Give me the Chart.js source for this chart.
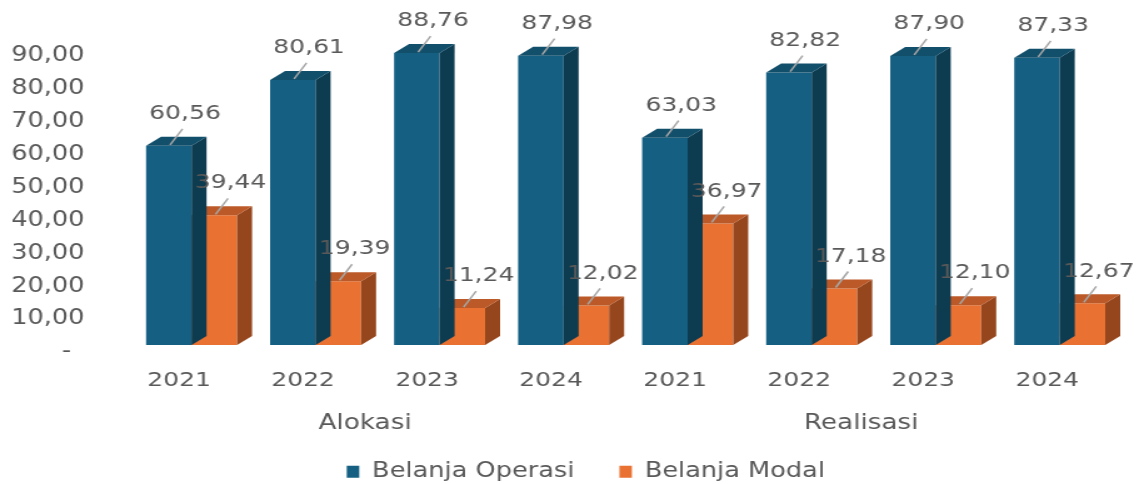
<!DOCTYPE html>
<html>
<head>
<meta charset="utf-8">
<script src="https://cdn.jsdelivr.net/npm/chart.js@4/dist/chart.umd.min.js"></script>
<style>
  html, body { margin: 0; padding: 0; background: #fff; overflow: hidden; }
  /* the source picture is stretched sideways, so the canvas is too */
  #wrap {
    position: absolute; left: 0; top: 0;
    width: 911px; height: 484px;
    transform: scaleX(1.25027); transform-origin: 0 0;
  }
</style>
</head>
<body>
<div id="wrap"><canvas id="chart"></canvas></div>
<script>
const years = ["2021", "2022", "2023", "2024", "2021", "2022", "2023", "2024"];
const groups = ["Alokasi", "Realisasi"];
const belanjaOperasi = [60.56, 80.61, 88.76, 87.98, 63.03, 82.82, 87.90, 87.33];
const belanjaModal = [39.44, 19.39, 11.24, 12.02, 36.97, 17.18, 12.10, 12.67];

const FONT = '"DejaVu Sans", sans-serif';
const GREY = "#595959";
const DEPTH_X = 12;
const DEPTH_Y = 9;
const LABEL_SHIFT = -10;

const shades = [
  { side: "#0d3b50", top: "#124f6b" },
  { side: "#96461d", top: "#bb5a28" },
];

function fmt(v) {
  return v.toFixed(2).replace(".", ",");
}

// side and top faces, drawn right after each dataset so the next one covers them
const depthPlugin = {
  id: "depth",
  afterDatasetDraw(chart, args) {
    const ctx = chart.ctx;
    const shade = shades[args.index];
    ctx.save();
    args.meta.data.forEach((bar) => {
      const left = bar.x - bar.width / 2;
      const right = bar.x + bar.width / 2;
      const top = bar.y;
      const base = bar.base;

      ctx.fillStyle = shade.side;
      ctx.beginPath();
      ctx.moveTo(right, top);
      ctx.lineTo(right + DEPTH_X, top - DEPTH_Y);
      ctx.lineTo(right + DEPTH_X, base - DEPTH_Y);
      ctx.lineTo(right, base);
      ctx.closePath();
      ctx.fill();

      ctx.fillStyle = shade.top;
      ctx.beginPath();
      ctx.moveTo(left, top);
      ctx.lineTo(left + DEPTH_X, top - DEPTH_Y);
      ctx.lineTo(right + DEPTH_X, top - DEPTH_Y);
      ctx.lineTo(right, top);
      ctx.closePath();
      ctx.fill();
    });
    ctx.restore();
  },
  afterDatasetsDraw(chart) {
    const ctx = chart.ctx;
    ctx.save();
    ctx.font = "20px " + FONT;
    ctx.textAlign = "center";
    ctx.textBaseline = "middle";
    chart.data.datasets.forEach((ds, i) => {
      chart.getDatasetMeta(i).data.forEach((bar, j) => {
        const x = bar.x;
        const y = bar.y;
        ctx.strokeStyle = "#a6a6a6";
        ctx.lineWidth = 1.5;
        ctx.beginPath();
        ctx.moveTo(x + 1, y - 1);
        ctx.lineTo(x + 11, y - 17);
        ctx.stroke();
        ctx.fillStyle = GREY;
        ctx.fillText(fmt(ds.data[j]), x + 13, y - 32);
      });
    });
    ctx.restore();
  },
  afterDraw(chart) {
    const ctx = chart.ctx;
    const xs = chart.scales.x;
    ctx.save();
    ctx.font = "21px " + FONT;
    ctx.fillStyle = GREY;
    ctx.textAlign = "center";
    ctx.textBaseline = "middle";
    groups.forEach((g, k) => {
      const a = xs.getPixelForValue(k * 4);
      const b = xs.getPixelForValue(k * 4 + 3);
      ctx.fillText(g, (a + b) / 2 + LABEL_SHIFT, 424);
    });
    ctx.restore();
  },
  afterLayout(chart) {
    // legend sits a little right of the canvas centre in the source
    const lg = chart.legend;
    lg.left += 20;
    lg.right += 20;
    lg.top += 8;
    lg.bottom += 8;
  },
};

new Chart(document.getElementById("chart"), {
  type: "bar",
  data: {
    labels: years,
    datasets: [
      {
        label: "Belanja Operasi",
        data: belanjaOperasi,
        backgroundColor: "#156082",
        borderWidth: 0,
      },
      {
        label: "Belanja Modal",
        data: belanjaModal,
        backgroundColor: "#e97132",
        borderWidth: 0,
      },
    ],
  },
  plugins: [depthPlugin],
  options: {
    responsive: true,
    maintainAspectRatio: false,
    animation: false,
    datasets: {
      bar: { barPercentage: 1, categoryPercentage: 0.734 },
    },
    layout: { padding: { top: 49, right: 13.8, left: 0, bottom: 0 } },
    plugins: {
      tooltip: { enabled: false },
      legend: {
        position: "bottom",
        labels: {
          font: { family: FONT, size: 20.5 },
          color: GREY,
          boxWidth: 10,
          boxHeight: 12,
          padding: 36,
        },
      },
    },
    scales: {
      x: {
        grid: { display: false, drawTicks: false },
        border: { display: false },
        ticks: {
          font: { family: FONT, size: 20 },
          color: GREY,
          padding: 24,
          labelOffset: LABEL_SHIFT,
          maxRotation: 0,
          autoSkip: false,
        },
        afterFit(scale) {
          scale.height = 72.5;
        },
      },
      y: {
        min: 0,
        max: 90,
        grid: { display: false, drawTicks: false },
        border: { display: false },
        ticks: {
          stepSize: 10,
          font: { family: FONT, size: 20.5 },
          color: GREY,
          padding: 36,
          labelOffset: 7,
          callback: (v) => (v === 0 ? "- \u2009" : fmt(v)),
        },
        afterFit(scale) {
          scale.width = 103.6;
        },
      },
    },
  },
});
</script>
</body>
</html>
